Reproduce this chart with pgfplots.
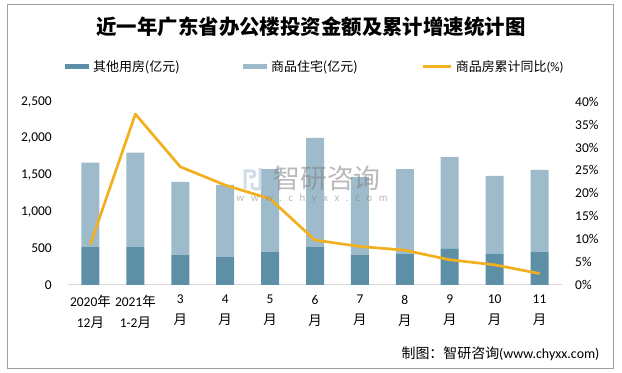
\documentclass[border=0pt]{standalone}
\usepackage{pgfplots}
\pgfplotsset{compat=1.18}
\usepackage{fontspec}
\setmainfont{Carlito}
\newfontfamily\cjk{Noto Sans CJK SC}
\definecolor{cother}{HTML}{5D8FA6}
\definecolor{cres}{HTML}{9DBBCA}
\definecolor{cline}{HTML}{F2B01E}
\definecolor{caxis}{HTML}{D9D9D9}
\definecolor{cframe}{HTML}{A0A0A0}
\definecolor{clogo}{HTML}{C5D3E6}
\begin{document}
\begin{tikzpicture}
\path (0,0) rectangle (622bp,373bp);
\draw[cframe, line width=0.8bp] (7bp,5bp) rectangle (613bp,369bp);
\node[font=\fontsize{20.5}{24}\selectfont\cjk\bfseries] at (311bp,346bp) {近一年广东省办公楼投资金额及累计增速统计图};
\begin{axis}[
  at={(68bp,88bp)}, anchor=south west,
  scale only axis, width=494bp, height=183.3bp,
  xmin=-0.5, xmax=10.5, ymin=0, ymax=2500,
  enlargelimits=false,
  ybar stacked, bar width=18bp,
  separate axis lines,
  axis x line*=bottom, axis y line*=left,
  y axis line style={draw=none},
  x axis line style={draw=caxis, line width=1bp, -},
  major tick length=0pt,
  xtick={0,...,10},
  xticklabels={{2020{\cjk 年}\\12{\cjk 月}},{2021{\cjk 年}\\1-2{\cjk 月}},{3\\{\cjk 月}},{4\\{\cjk 月}},{5\\{\cjk 月}},{6\\{\cjk 月}},{7\\{\cjk 月}},{8\\{\cjk 月}},{9\\{\cjk 月}},{10\\{\cjk 月}},{11\\{\cjk 月}}},
  xticklabel style={inner sep=0pt, yshift=-10bp, align=center, font=\fontsize{13.5}{21}\selectfont},
  ytick={0,500,...,2500},
  scaled y ticks=false,
  /pgf/number format/.cd, 1000 sep={,}, assume math mode=true, /pgfplots/.cd,
  yticklabel style={inner sep=0pt, xshift=-16bp, anchor=east, font=\fontsize{13.5}{16}\selectfont},
  legend columns=3,
  legend style={at={(-0.0061,1.191)}, anchor=west, draw=none, fill=none, inner sep=0pt,
    font=\fontsize{13}{15}\selectfont,
    nodes={inner sep=0pt, anchor=west},
    /tikz/every odd column/.append style={column sep=4bp}},
]
\addplot+[fill=cother, draw=none,
  legend image code/.code={\fill[cother] (0bp,-2.5bp) rectangle (24bp,2.5bp);}]
  coordinates {(0,522) (1,522) (2,409) (3,386) (4,450) (5,522) (6,409) (7,427) (8,491) (9,423) (10,450)};
\addlegendentry{\makebox[150bp][l]{\cjk 其他用房(亿元)}}
\addplot+[fill=cres, draw=none,
  legend image code/.code={\fill[cres] (0bp,-2.5bp) rectangle (24bp,2.5bp);}]
  coordinates {(0,1146) (1,1283) (2,996) (3,978) (4,1132) (5,1483) (6,1064) (7,1155) (8,1255) (9,1064) (10,1119)};
\addlegendentry{\makebox[150bp][l]{\cjk 商品住宅(亿元)}}
\addlegendimage{color=cline, line width=2.7bp,
  legend image code/.code={\draw[cline, line width=2.7bp] (0bp,0bp) -- (28bp,0bp);}}
\addlegendentry{{\cjk 商品房累计同比}(\%)}
\end{axis}
\begin{axis}[
  at={(68bp,88bp)}, anchor=south west,
  scale only axis, width=494bp, height=183.3bp,
  xmin=-0.5, xmax=10.5, ymin=0, ymax=40,
  enlargelimits=false, clip=false,
  axis x line=none, axis y line*=right,
  y axis line style={draw=none},
  major tick length=0pt,
  ytick={0,5,...,40},
  /pgf/number format/assume math mode=true,
  yticklabel={\pgfmathprintnumber{\tick}\%},
  yticklabel style={inner sep=0pt, xshift=13bp, anchor=west, font=\fontsize{13.5}{16}\selectfont},
]
\addplot[color=cline, line width=2.7bp, line join=round, no markers]
  coordinates {(0,8.9) (1,37.3) (2,25.8) (3,21.8) (4,18.8) (5,9.8) (6,8.4) (7,7.6) (8,5.5) (9,4.4) (10,2.5)};
\end{axis}
% watermark logo
\begin{scope}[opacity=0.8, clogo, line width=3bp]
\draw (245bp,184bp) -- (245bp,202bp) -- (252bp,202bp) arc (90:-90:3bp) -- (249bp,196bp);
\draw (260bp,205bp) -- (260bp,184bp) -- (255bp,184bp) arc (-90:-180:3bp) -- (252bp,190bp);
\end{scope}
\node[text=gray, opacity=0.55, font=\fontsize{27}{30}\selectfont\cjk] at (327bp,195bp) {智研咨询};
\node[text=gray, opacity=0.55, font=\fontsize{11}{13}\selectfont\addfontfeature{LetterSpace=60}] at (312bp,174bp) {www.chyxx.com};
\node[anchor=east, font=\fontsize{14}{16}\selectfont] at (603bp,19bp) {{\cjk 制图：智研咨询}(www.chyxx.com)};
\end{tikzpicture}
\end{document}
